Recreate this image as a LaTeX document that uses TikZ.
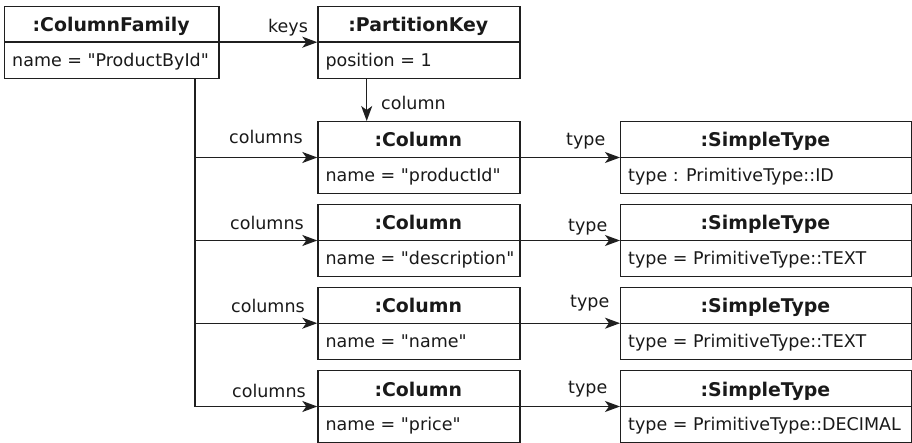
\documentclass[tikz,border=0pt]{standalone}
\usepackage{fontspec}
\setmainfont{DejaVu Sans}[Ligatures=TeXOff]
\usetikzlibrary{arrows.meta}

\tikzset{
  ink/.style={draw=black!88, line width=1.4pt},
  objbox/.style={ink, inner sep=0pt, anchor=north west, minimum height=72pt},
  divider/.style={ink},
  objtitle/.style={font=\fontsize{18.9}{22}\selectfont\bfseries, anchor=base, inner sep=0pt, text=black!90},
  objattr/.style={font=\fontsize{17.5}{21}\selectfont, anchor=base west, inner sep=0pt, text=black!90},
  lbl/.style={font=\fontsize{17.5}{21}\selectfont, anchor=base west, inner sep=0pt, text=black!90},
  trunkline/.style={ink},
  link/.style={ink, -{Stealth[length=15pt, width=11pt, inset=4pt]}},
}

% object box: name, left, top, width, title, attribute
\newcommand\objnode[6]{%
  \node[objbox, minimum width=#4pt] (#1) at (#2,#3) {};
  \coordinate (#1-div) at (#2,{#3+36.5});
  \draw[divider] (#1.west |- #1-div) -- (#1.east |- #1-div);
  \node[objtitle] (#1-title) at ({#2+#4/2},{#3+26}) {#5};
  \node[objattr] (#1-attr) at ({#2+8},{#3+60.5}) {#6};
}

\begin{document}
\begin{tikzpicture}[x=1pt, y=-1pt]
  \useasboundingbox (0,0) rectangle (912,443);

  % objects
  \objnode{cf}{4}{5.7}{214.3}{:ColumnFamily}{name = "ProductById"}
  \objnode{pk}{317.3}{5.7}{202}{:PartitionKey}{position = 1}

  \objnode{c1}{317.3}{121}{202}{:Column}{name = "productId"}
  \objnode{c2}{317.3}{204}{202}{:Column}{name = "description"}
  \objnode{c3}{317.3}{286.7}{202}{:Column}{name = "name"}
  \objnode{c4}{317.3}{370}{202}{:Column}{name = "price"}

  \objnode{t1}{620}{121}{290.8}{:SimpleType}{type : PrimitiveType::ID}
  \objnode{t2}{620}{204}{290.8}{:SimpleType}{type = PrimitiveType::TEXT}
  \objnode{t3}{620}{286.7}{290.8}{:SimpleType}{type = PrimitiveType::TEXT}
  \objnode{t4}{620}{370}{290.8}{:SimpleType}{type = PrimitiveType::DECIMAL}

  % keys
  \draw[link] (cf.east |- cf-div) -- (pk.west |- pk-div);
  \node[lbl] (keys) at (268,33) {keys};

  % column
  \coordinate (pkdown) at (366.7,0);
  \draw[link] (pk.south -| pkdown) -- (c1.north -| pkdown);
  \node[lbl] (colref) at (381,110) {column};

  % columns: shared trunk with one branch per column
  \coordinate (trunk) at (195,0);
  \draw[trunkline] (cf.south -| trunk) -- (trunk |- c4-div);
  \draw[link] (trunk |- c1-div) -- (c1.west |- c1-div);
  \draw[link] (trunk |- c2-div) -- (c2.west |- c2-div);
  \draw[link] (trunk |- c3-div) -- (c3.west |- c3-div);
  \draw[link] (trunk |- c4-div) -- (c4.west |- c4-div);
  \node[lbl] (cols1) at (229,144) {columns};
  \node[lbl] (cols2) at (230,230) {columns};
  \node[lbl] (cols3) at (231,312.7) {columns};
  \node[lbl] (cols4) at (232,397.7) {columns};

  % type
  \draw[link] (c1.east |- c1-div) -- (t1.west |- t1-div);
  \draw[link] (c2.east |- c2-div) -- (t2.west |- t2-div);
  \draw[link] (c3.east |- c3-div) -- (t3.west |- t3-div);
  \draw[link] (c4.east |- c4-div) -- (t4.west |- t4-div);
  \node[lbl] (type1) at (566,146) {type};
  \node[lbl] (type2) at (568,231.7) {type};
  \node[lbl] (type3) at (570,307.3) {type};
  \node[lbl] (type4) at (568,393.3) {type};
\end{tikzpicture}
\end{document}
